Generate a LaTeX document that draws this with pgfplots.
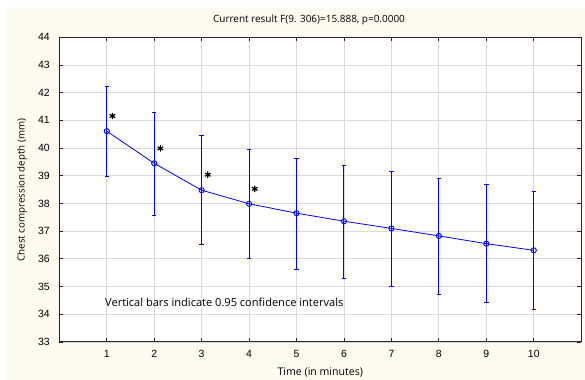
\documentclass[border=0pt]{standalone}
\usepackage{pgfplots}
\pgfplotsset{compat=1.18}
\usepackage{pgfplotstable}
\usepackage{fontspec}
\setmainfont{Open Sans}
\newfontfamily\arial{Liberation Sans}
\definecolor{cream}{RGB}{253,250,240}
\definecolor{gridgray}{RGB}{218,218,218}
\pgfplotstableread{
x y ep em
1 40.61 1.63 1.65
2 39.45 1.84 1.87
3 38.48 1.97 1.97
4 37.99 1.96 1.98
5 37.65 1.98 2.02
6 37.36 2.01 2.06
7 37.10 2.04 2.08
8 36.83 2.09 2.10
9 36.55 2.12 2.14
10 36.31 2.14 2.13
}\means
\pgfplotstableread{
x y
1.12 41.16
2.13 39.99
3.13 39.04
4.12 38.53
}\stars
\begin{document}
\begin{tikzpicture}
\useasboundingbox (0bp,0bp) rectangle (585bp,380bp);
\fill[white] (0bp,0bp) rectangle (585bp,380bp);
\fill[cream] (7bp,0bp) rectangle (585bp,373bp);
\node[font=\fontsize{10}{12}\selectfont] at (309bp,360bp) {Current result F(9. 306)=15.888, p=0.0000};
\node[font=\fontsize{10.6}{12}\selectfont] at (320.3bp,7.5bp) {Time (in minutes)};
\node[font=\fontsize{9.8}{12}\selectfont, rotate=90] at (22bp,190bp) {Chest compression depth (mm)};
\begin{axis}[
  at={(59.3bp,38bp)}, anchor=south west,
  width=521.9bp, height=304.7bp, scale only axis,
  xmin=0, xmax=11, ymin=33, ymax=44,
  xtick={1,...,10}, ytick={33,...,44},
  axis background/.style={fill=white},
  grid=major, grid style={gridgray, line width=0.8bp},
  axis line style={black!85, line width=1bp},
  tick align=inside, major tick length=4bp,
  tick style={black!85, line width=0.8bp},
  /pgf/number format/assume math mode=true,
  ticklabel style={font=\arial\fontsize{10.5}{12}\selectfont},
  xticklabel style={yshift=-4.5bp},
  yticklabel style={xshift=-6bp},
  clip=false,
]
\addplot[blue, line width=0.8bp, mark=o, mark size=2.6bp,
  mark options={line width=0.9bp},
  error bars/.cd, y dir=both, y explicit,
  error bar style={blue, line width=1bp},
  error mark options={rotate=90, blue, mark size=2.2bp, line width=1bp}]
  table[x=x, y=y, y error plus=ep, y error minus=em] {\means};
\addplot[only marks, mark=asterisk, mark size=3.2bp,
  mark options={line width=1.2bp, black}] table[x=x, y=y] {\stars};
\node[anchor=west, inner sep=0pt, font=\fontsize{11.1}{12}\selectfont] at (axis cs:0.963,34.43) {Vertical bars indicate 0.95 confidence intervals};
\end{axis}
\end{tikzpicture}
\end{document}
